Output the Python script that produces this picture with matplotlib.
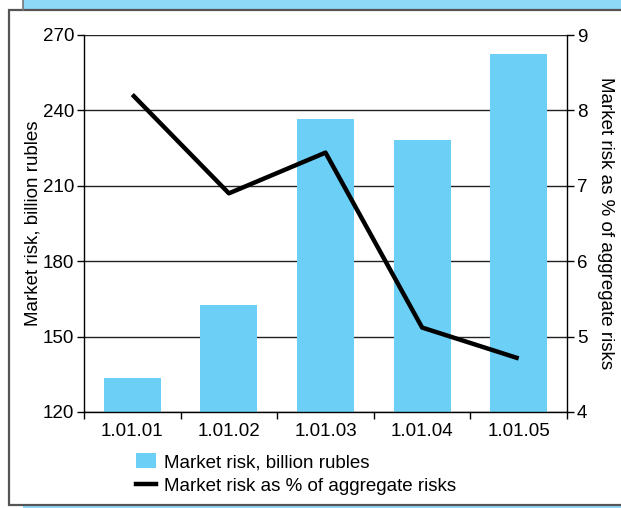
import matplotlib
matplotlib.use("Agg")
import matplotlib.pyplot as plt
from matplotlib.patches import Rectangle, Patch
from matplotlib.lines import Line2D
from matplotlib import font_manager

names = {f.name for f in font_manager.fontManager.ttflist}
family = "Liberation Sans Narrow" if "Liberation Sans Narrow" in names else "Liberation Sans"
plt.rcParams["font.family"] = [family, "DejaVu Sans"]

dates = ["1.01.01", "1.01.02", "1.01.03", "1.01.04", "1.01.05"]
risk_bn = [133.5, 162.6, 236.6, 228.2, 262.5]
risk_pct = [8.21, 6.90, 7.44, 5.12, 4.71]

bar_color = "#6ccff6"
band_color = "#8ed8f8"
fs = 13.5

W, H = 621, 508
fig = plt.figure(figsize=(W / 100, H / 100), dpi=100)

def fx(px):
    return px / W

def fy(py):
    return 1 - py / H

# background bands and framed panel
fig.patches.append(Rectangle((fx(23), fy(10)), 1, 10 / H, transform=fig.transFigure,
                             facecolor=band_color, edgecolor="none", zorder=0))
fig.patches.append(Rectangle((fx(23), 0), 1, 3 / H, transform=fig.transFigure,
                             facecolor=band_color, edgecolor="none", zorder=0))
fig.lines.append(Line2D([fx(23), fx(23)], [fy(10), 1], transform=fig.transFigure,
                        color="#777777", lw=1.2))
fig.patches.append(Rectangle((fx(8.5), fy(505)), 1, (505 - 10) / H, transform=fig.transFigure,
                             facecolor="white", edgecolor="#555555", lw=1.6, zorder=0.5))

ax = fig.add_axes([fx(84), fy(412), fx(567) - fx(84), (412 - 35) / H])
ax.set_zorder(1)
x = list(range(len(dates)))
ax.bar(x, risk_bn, width=0.59, color=bar_color, zorder=2,
       label="Market risk, billion rubles")
ax.set_ylim(120, 270)
ax.set_xlim(-0.5, len(dates) - 0.5)
ax.set_yticks([120, 150, 180, 210, 240, 270])
ax.yaxis.grid(True, color="#222222", lw=1.0, zorder=1)
ax.set_axisbelow(True)
ax.set_xticks(x)
ax.set_xticklabels(dates)
ax.set_xticks([i + 0.5 for i in range(-1, len(dates))], minor=True)
ax.tick_params(axis="x", which="major", length=0, pad=8, labelsize=fs)
ax.tick_params(axis="x", which="minor", length=5, width=1, direction="out")
ax.tick_params(axis="y", length=5, width=1, direction="out", pad=2, labelsize=fs)
for side in ("top", "right"):
    ax.spines[side].set_visible(False)
ax.spines["left"].set_linewidth(1.0)
ax.spines["bottom"].set_linewidth(1.0)
ax.set_ylabel("Market risk, billion rubles", fontsize=fs, labelpad=1)

ax2 = ax.twinx()
ax2.plot(x, risk_pct, color="black", lw=3.2, solid_capstyle="butt", zorder=3,
         label="Market risk as % of aggregate risks")
ax2.set_ylim(4, 9)
ax2.set_yticks([4, 5, 6, 7, 8, 9])
ax2.tick_params(axis="y", length=5, width=1, direction="out", pad=2, labelsize=fs)
for side in ("top", "left", "bottom"):
    ax2.spines[side].set_visible(False)
ax2.spines["right"].set_linewidth(1.0)
ax2.set_ylabel("Market risk as % of aggregate risks", fontsize=fs, rotation=270,
               labelpad=19)

handles = [Patch(facecolor=bar_color, edgecolor="none"),
           Line2D([0], [0], color="black", lw=3.2)]
labels = ["Market risk, billion rubles", "Market risk as % of aggregate risks"]
fig.legend(handles, labels, loc="upper left", bbox_to_anchor=(fx(127), fy(444)),
           frameon=False, fontsize=fs, handlelength=1.05, handleheight=0.8,
           handletextpad=0.4, labelspacing=0.35, borderpad=0)

fig.savefig("out.png", dpi=100)
